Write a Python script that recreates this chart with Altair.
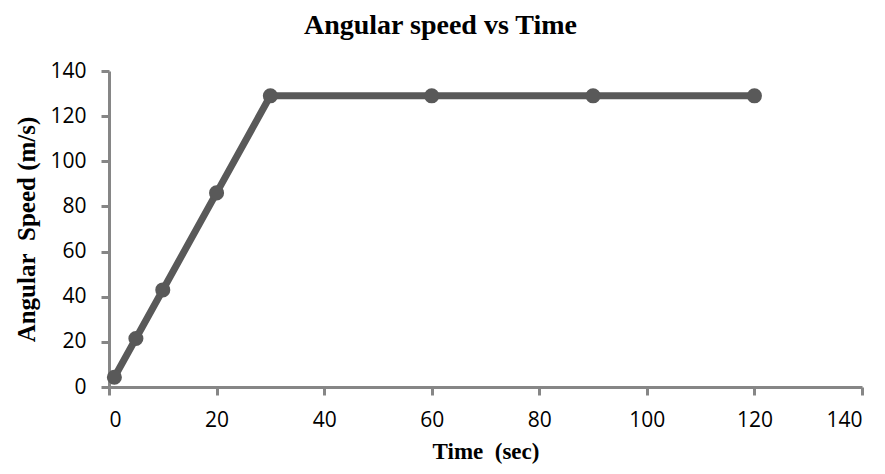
import altair as alt
import pandas as pd

time_sec = [1, 5, 10, 20, 30, 60, 90, 120]
angular_speed = [4.3, 21.5, 43, 86, 129, 129, 129, 129]

df = pd.DataFrame({"Time": time_sec, "Speed": angular_speed})

color = "#595959"
axis_color = "#868686"

x = alt.X("Time:Q", scale=alt.Scale(domain=[0, 140], nice=False),
          axis=alt.Axis(values=list(range(0, 141, 20)), title="Time\u00a0 (sec)",
                        grid=False, domainColor=axis_color, domainWidth=3,
                        tickColor=axis_color, tickWidth=3, tickSize=8,
                        labelFont="Open Sans", labelFontSize=21, labelColor="black",
                        labelPadding=14, titleFont="Liberation Serif", titleFontSize=23,
                        titleFontWeight="bold", titleColor="black", titlePadding=10))
y = alt.Y("Speed:Q", scale=alt.Scale(domain=[0, 140], nice=False),
          axis=alt.Axis(values=list(range(0, 141, 20)), title="Angular\u00a0 Speed (m/s)",
                        grid=False, domainColor=axis_color, domainWidth=3,
                        tickColor=axis_color, tickWidth=3, tickSize=8,
                        labelFont="Open Sans", labelFontSize=21, labelColor="black",
                        labelPadding=15, titleFont="Liberation Serif", titleFontSize=25,
                        titleFontWeight="bold", titleColor="black", titlePadding=10))

line = alt.Chart(df).mark_line(color=color, strokeWidth=7).encode(x=x, y=y)
pts = alt.Chart(df).mark_circle(color=color, size=227, opacity=1).encode(x=x, y=y)

chart = alt.layer(line, pts).properties(
    width=753, height=316,
    title=alt.TitleParams("Angular speed vs Time", font="Liberation Serif",
                          fontSize=28, fontWeight="bold", color="black",
                          anchor="middle", dx=-45, offset=20),
    autosize=alt.AutoSizeParams(type="none"),
    padding={"left": 101, "top": 63, "right": 15, "bottom": 79},
).configure_view(stroke=None)

chart.save("out.html", embed_options={"renderer": "svg", "actions": False})
